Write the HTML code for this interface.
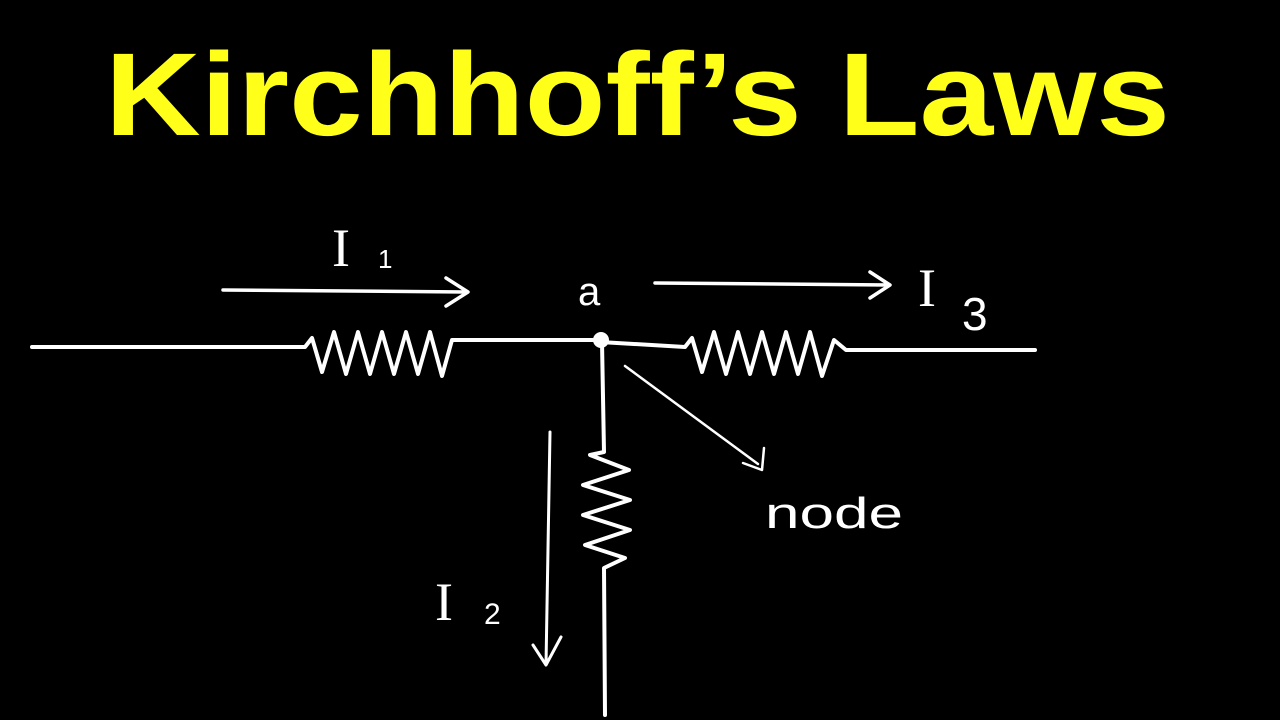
<!DOCTYPE html>
<html><head><meta charset="utf-8"><style>html,body{margin:0;padding:0;background:#000;width:1280px;height:720px;overflow:hidden}</style></head>
<body>
<svg width="1280" height="720" viewBox="0 0 1280 720" xmlns="http://www.w3.org/2000/svg">
<rect width="1280" height="720" fill="#000"/>
<text x="105" y="135" font-family="Liberation Sans, sans-serif" font-weight="bold" font-size="118" fill="#ffff1a" textLength="1065" lengthAdjust="spacingAndGlyphs">Kirchhoff’s Laws</text>
<g fill="none" stroke="#fff" stroke-width="4" stroke-linecap="round" stroke-linejoin="round">
<path d="M32 347 L305 347 L312 338 L322 372 L334 332 L346 374 L358 332 L370 374 L382 332 L394 374 L406 332 L418 374 L430 332 L442 376 L452 340 L600 340"/>
<path d="M600 342 L685 347 L692 338 L702 372 L714 332 L726 374 L738 332 L750 374 L762 332 L774 374 L786 332 L798 374 L810 332 L822 376 L834 340 L846 350 L1035 350"/>
<path d="M602 342 L604 452 L590 455 L629 470 L583 485 L630 500 L583 515 L630 530 L585 545 L625 558 L604 568 L605 715"/>
<circle cx="601" cy="340" r="6" fill="#fff"/>
<path d="M223 290 L466 292 M446 278 L468 292 L446 306" stroke-width="3.5"/>
<path d="M655 283 L889 285 M870 272 L890 285 L870 298" stroke-width="3.5"/>
<path d="M550 432 L546 665 M533 645 L546 665 L561 637" stroke-width="3"/>
<path d="M625 366 L758 464 M743 463 L762 470 L764 448" stroke-width="2.5"/>
</g>
<g fill="#fff" font-family="Liberation Sans, sans-serif">
<text x="578" y="305" font-size="40">a</text>
<text x="332" y="266" font-size="54" font-family="Liberation Serif, serif">I</text>
<text x="378" y="268" font-size="26">1</text>
<text x="918" y="306" font-size="54" font-family="Liberation Serif, serif">I</text>
<text x="962" y="330" font-size="46">3</text>
<text x="435" y="620" font-size="54" font-family="Liberation Serif, serif">I</text>
<text x="484" y="624" font-size="30">2</text>
<text x="765" y="528" font-size="44" textLength="138" lengthAdjust="spacingAndGlyphs">node</text>
</g>
</svg>
</body></html>
